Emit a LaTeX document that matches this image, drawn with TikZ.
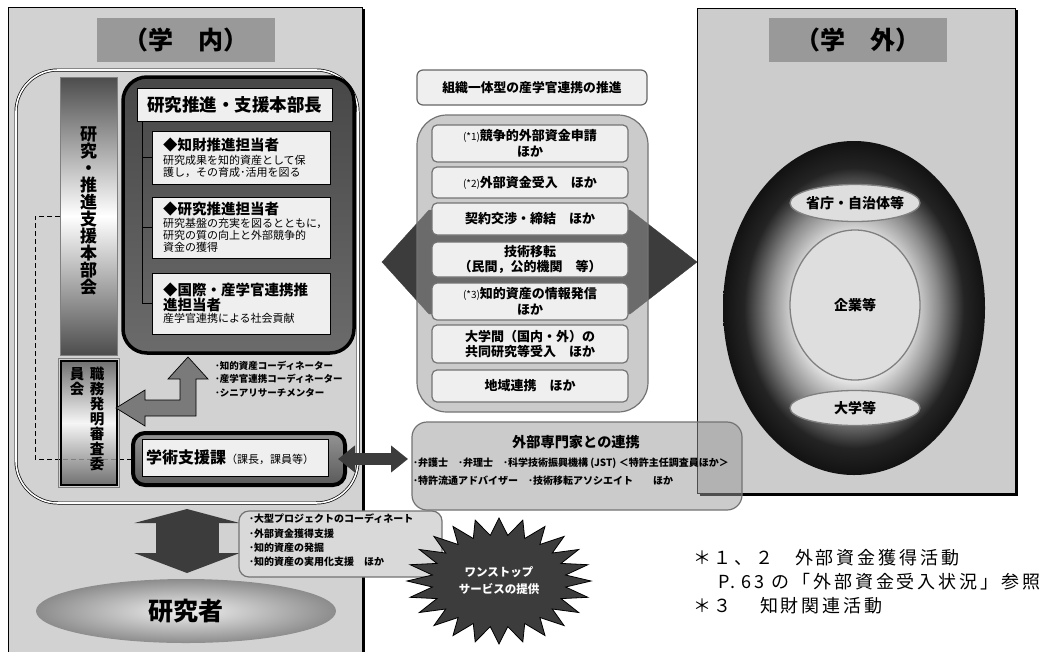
\documentclass[tikz,border=0pt]{standalone}
\usepackage{fontspec}
\setmainfont{Noto Sans CJK JP}
\newfontfamily\fnfont[LetterSpace=16]{Noto Sans CJK JP}
\usetikzlibrary{arrows.meta,shapes.geometric}
\newcommand{\fsz}[2]{\fontsize{#1}{#2}\selectfont}
\definecolor{panelL}{HTML}{D2D2D2}
\definecolor{panelR}{HTML}{CCCCCC}
\definecolor{titleg}{HTML}{999999}
\definecolor{dk}{HTML}{3C3C3C}
\definecolor{itemf}{HTML}{EFEFEF}
\pgfdeclareradialshading{eggshade}{\pgfpoint{0bp}{0bp}}{color(0bp)=(white); color(10bp)=(white!96!black); color(16bp)=(black!45); color(21bp)=(black!86); color(25bp)=(black!93); color(50bp)=(black)}
\begin{document}
\begin{tikzpicture}[x=1pt,y=-1pt,
  every node/.style={inner sep=0pt, outer sep=0pt},
  ttl/.style={fill=titleg, minimum width=178pt, minimum height=44pt, font=\bfseries\fsz{25}{25}},
  role/.style={draw=black, line width=1pt, fill=itemf, minimum width=178pt, text width=156pt, align=left, font=\fsz{11}{12}},
  itm/.style={draw=black!55, line width=1.2pt, rounded corners=5pt, fill=itemf, minimum width=196pt, align=center, font=\bfseries\fsz{13}{15.5}},
  oval/.style={ellipse, draw=black!50, line width=1.3pt, fill=black!13, minimum width=130pt},
  ovaltext/.style={font=\bfseries\fsz{14}{14}},
  softbox/.style={draw=black!55, line width=1.2pt, fill=black!40, fill opacity=0.51},
  bigarrow/.style={draw=dk, color=dk},
  note/.style={anchor=west, font=\fnfont\fsz{18}{18}}
]
\useasboundingbox (0,0) rectangle (1064,651);

% ---------- panels ----------
\fill[black] (10,9) rectangle (364.5,652);
\filldraw[fill=panelL, draw=black, line width=0.8pt] (8,7) rectangle (362,652);
\fill[black] (699.5,10) rectangle (1017.5,495.5);
\filldraw[fill=panelR, draw=black, line width=0.8pt] (697,8) rectangle (1015,493);

\node[ttl] (tin) at (185.5,40) {（学　内）};
\node[ttl] (tout) at (857.5,40) {（学　外）};

% ---------- inner frame ----------
\node[draw=black, line width=0.7pt, double=white, double distance=1.6pt, rounded corners=42pt,
      minimum width=342pt, minimum height=433pt] (frame) at (187,286.5) {};

% ---------- head group ----------
\node[draw=black, line width=3.5pt, rounded corners=24pt, top color=black!72, bottom color=black!58,
      minimum width=231pt, minimum height=276pt] (grp) at (238.5,215) {};
\node[draw=black, line width=0.7pt, fill=itemf, minimum width=195pt, minimum height=33pt,
      font=\bfseries\fsz{17.5}{17.5}] (hdr) at (234.5,105) {研究推進・支援本部長};

\node[role, minimum height=53pt] (b1) at (241,157.5)
  {{\bfseries\fsz{14.5}{16}◆知財推進担当者}\\[2pt]研究成果を知的資産として保\\護し，その育成･活用を図る};
\node[role, minimum height=61pt] (b2) at (241,227.5)
  {{\bfseries\fsz{14.5}{16}◆研究推進担当者}\\[1pt]研究基盤の充実を図るとともに，\\研究の質の向上と外部競争的\\資金の獲得};
\node[role, minimum height=61pt] (b3) at (241,303.5)
  {{\bfseries\fsz{14.5}{16}◆国際・産学官連携推\\進担当者}\\産学官連携による社会貢献};

\coordinate (tt) at (142,122);
\draw[line width=0.8pt] (tt) |- (b1.west);
\draw[line width=0.8pt] (tt) |- (b2.west);
\draw[line width=0.8pt] (tt) |- (b3.west);

% ---------- 学術支援課 ----------
\node[draw=black, line width=4pt, rounded corners=12pt, top color=black!42, bottom color=black!65,
      minimum width=212pt, minimum height=52pt] (gakout) at (239,459) {};
\node[draw=black, line width=0.8pt, fill=itemf, minimum width=186pt, minimum height=37pt,
      text width=178pt, align=left] (gakin) at (235,457.5)
  {{\bfseries\fsz{16}{16}学術支援課}{\fsz{11}{11}（課長，課員等）}};

% ---------- vertical bars ----------
\node[draw=black!50, line width=0.8pt, top color=black!70, bottom color=black!70, middle color=white,
      minimum width=57pt, minimum height=278pt] (bar1) at (88.5,216) {};
\node[font=\bfseries\fsz{17}{17}, align=center] (bar1t) at (88.5,211)
  {研\\究\\・\\推\\進\\支\\援\\本\\部\\会};

\draw[line width=0.8pt, dash pattern=on 5pt off 3pt] (bar1.west) -- ++(-25,0) |- (gakout.west);

\node[draw=black, line width=2.5pt, top color=black!65, bottom color=black!65, middle color=white,
      fill opacity=0.8, minimum width=56pt, minimum height=124pt] (bar2) at (89,423) {};
\draw[black!50, line width=0.6pt] ([shift={(-2.5,-2.5)}]bar2.north west) rectangle ([shift={(2.5,2.5)}]bar2.south east);
\node[font=\bfseries\fsz{14.5}{15}, align=center, anchor=north] (bar2r) at (97,367) {職\\務\\発\\明\\審\\査\\委};
\node[font=\bfseries\fsz{14.5}{15}, align=center, anchor=north] (bar2l) at (77,367) {員\\会};

% ---------- three-way arrow ----------
\filldraw[fill=black!52, draw=black, line width=0.7pt]
  (188,357) -- (208,379) -- (196,379) -- (196,416) -- (145,416) -- (145,426) -- (116,408)
  -- (145,390) -- (145,400) -- (180,400) -- (180,379) -- (168,379) -- cycle;
\node[anchor=north west, align=left, font=\bfseries\fsz{9.5}{13.5}] (coords) at (215,361)
  {･知的資産コーディネーター\\･産学官連携コーディネーター\\･シニアリサーチメンター};

% ---------- centre column ----------
\filldraw[fill=dk, draw=dk] (382,262) -- (429,210) -- (630,210) -- (697,262) -- (630,314) -- (429,314) -- cycle;
\node[softbox, rounded corners=30pt, minimum width=231pt, minimum height=297pt] (cont) at (532.5,263.5) {};
\node[draw=black!60, line width=1.2pt, rounded corners=6pt, fill=itemf, minimum width=230pt, minimum height=35pt,
      font=\bfseries\fsz{12.8}{13}] (org) at (532,87.5) {組織一体型の産学官連携の推進};

\node[itm, minimum height=37pt] (i1) at (530,143.5) {{\mdseries\fsz{10}{10}(*1)}競争的外部資金申請\\ほか};
\node[itm, minimum height=31pt] (i2) at (530,182.5) {{\mdseries\fsz{10}{10}(*2)}外部資金受入　ほか};
\node[itm, minimum height=32pt] (i3) at (530,219) {契約交渉・締結　ほか};
\node[itm, minimum height=35pt] (i4) at (530,259.5) {技術移転\\（民間，公的機関　等）};
\node[itm, minimum height=37pt] (i5) at (530,301.5) {{\mdseries\fsz{10}{10}(*3)}知的資産の情報発信\\ほか};
\node[itm, minimum height=38pt] (i6) at (530,344) {大学間（国内・外）の\\共同研究等受入　ほか};
\node[itm, minimum height=32pt] (i7) at (530,386) {地域連携　ほか};

% ---------- outside experts ----------
\node[softbox, rounded corners=15pt, minimum width=330pt, minimum height=88pt] (gaibu) at (577,466) {};
\node[font=\bfseries\fsz{14.2}{15}] (gaibut) at (576,442) {外部専門家との連携};
\node[anchor=west, font=\bfseries\fsz{10}{10}] (gl1) at (413,463) {･弁護士　･弁理士　･科学技術振興機構 (JST) ＜特許主任調査員ほか＞};
\node[anchor=west, font=\bfseries\fsz{10}{10}] (gl2) at (413,481) {･特許流通アドバイザー　･技術移転アソシエイト　　ほか};
\draw[bigarrow, line width=12pt, {Triangle[length=17pt,width=26pt]}-{Triangle[length=17pt,width=26pt]},
      shorten <=-7pt, shorten >=4pt] (gakout.east) -- (gakout.east -| gaibu.west);

% ---------- outside world ----------
\node[ellipse, shading=eggshade, minimum width=262pt, minimum height=334pt] (egg) at (854,308) {};
\node[oval, minimum height=37pt] (sho) at (855,203) {};
\node[ovaltext] at (sho) {省庁・自治体等};
\node[oval, minimum height=150pt] (kig) at (855,305) {};
\node[ovaltext] at (kig) {企業等};
\node[oval, minimum height=35pt] (dai) at (855,408) {};
\node[ovaltext] at (dai) {大学等};

% ---------- researchers ----------
\node[ellipse, inner color=black!6, outer color=black!45, minimum width=300pt, minimum height=64pt] (res) at (186,611) {};
\node[font=\bfseries\fsz{25}{25}] (rest) at (res) {研究者};
\draw[bigarrow, line width=63pt, {Triangle[length=14pt,width=105pt]}-{Triangle[length=20pt,width=105pt]},
      shorten <=6pt, shorten >=6pt] (frame.south) -- (frame.south |- res.north);

\node[draw=black!55, line width=1.2pt, rounded corners=10pt, fill=black!15, minimum width=203pt, minimum height=66pt] (bul) at (340.5,544) {};
\node[anchor=north west, align=left, font=\bfseries\fsz{10}{14.3}] (bult) at (249,514)
  {･大型プロジェクトのコーディネート\\･外部資金獲得支援\\･知的資産の発掘\\･知的資産の実用化支援　ほか};

% ---------- starburst ----------
\filldraw[fill=dk, draw=black, line width=0.8pt]
  plot[samples at={0,...,47}, variable=\k] ({499+(1-0.27*mod(\k,2))*92*cos(\k*7.5-90)}, {581+(1-0.27*mod(\k,2))*63*sin(\k*7.5-90)}) -- cycle;
\node[text=white, align=center, font=\bfseries\fsz{11.5}{17}] (star) at (499,581) {ワンストップ\\サービスの提供};

% ---------- footnotes ----------
\node[note] (fn1a) at (693,558) {＊１、２};
\node[note] (fn1b) at (795,558) {外部資金獲得活動};
\node[note] (fn2) at (718,582) {P. 63 の「外部資金受入状況」参照};
\node[note] (fn3a) at (693,606) {＊３};
\node[note] (fn3b) at (760,606) {知財関連活動};
\end{tikzpicture}
\end{document}
